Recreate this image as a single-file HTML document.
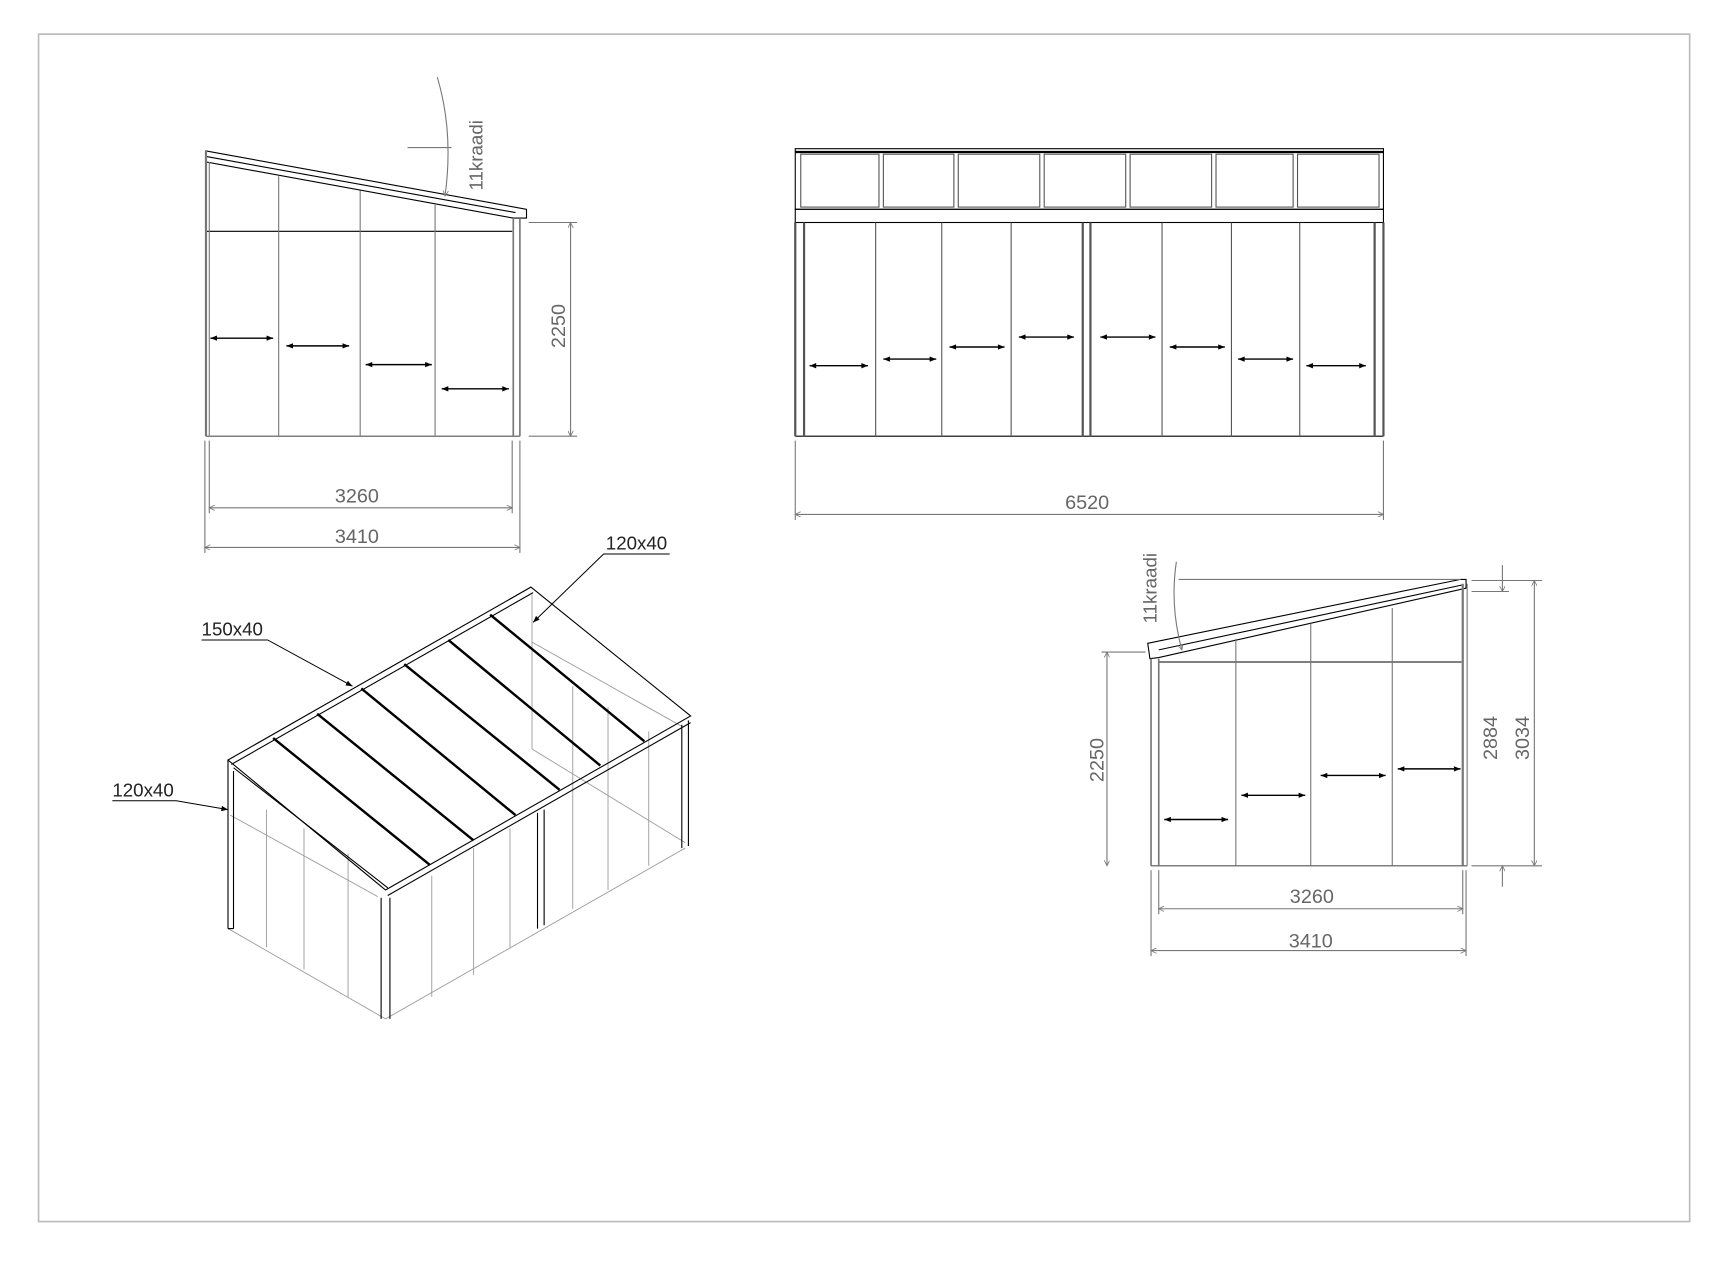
<!DOCTYPE html>
<html><head><meta charset="utf-8"><style>
html,body{margin:0;padding:0;background:#fff}
svg{display:block}
text{font-family:"Liberation Sans",sans-serif;fill:#666}
</style></head><body>
<svg width="1726" height="1261" viewBox="0 0 1567 1144.8" preserveAspectRatio="none" xmlns="http://www.w3.org/2000/svg">
<defs>
<marker id="a" viewBox="0 0 10 10" refX="10" refY="5" markerWidth="8" markerHeight="6" orient="auto-start-reverse" markerUnits="userSpaceOnUse"><path d="M0,1L10,5L0,9z" fill="#000"/></marker>
<marker id="g" viewBox="0 0 10 10" refX="10" refY="5" markerWidth="10" markerHeight="5" orient="auto-start-reverse" markerUnits="userSpaceOnUse"><path d="M0,0L10,5L0,10" fill="none" stroke="#777" stroke-width="1.5"/></marker>
</defs>
<rect x="35" y="31" width="1499" height="1078" fill="none" stroke="#bbb" stroke-width="1.5"/>

<!-- LEFT ELEVATION -->
<g stroke="#000" fill="none" stroke-width="1">
<path d="M187,137 L478,190 L478,198 L466,198 L187,147 Z"/>
<line x1="187" y1="142" x2="468" y2="193"/>
<line x1="187" y1="210" x2="465" y2="210"/>
<line x1="187" y1="396" x2="472" y2="396" stroke="#555"/>
</g>
<g stroke="#777" fill="none" stroke-width="1">
<line x1="187" y1="137" x2="187" y2="396" stroke-width="2"/><line x1="190" y1="147" x2="190" y2="396"/>
<line x1="466" y1="198" x2="466" y2="396" stroke-width="1.5"/><line x1="472" y1="198" x2="472" y2="396" stroke-width="1.5"/>
<line x1="253" y1="160" x2="253" y2="396"/><line x1="327" y1="173" x2="327" y2="396"/><line x1="395" y1="186" x2="395" y2="396"/>
<line x1="186" y1="400" x2="186" y2="502"/><line x1="472" y1="400" x2="472" y2="502"/>
<line x1="190" y1="400" x2="190" y2="466"/><line x1="465" y1="400" x2="465" y2="466"/>
<line x1="190" y1="461" x2="465" y2="461" marker-start="url(#g)" marker-end="url(#g)"/>
<line x1="186" y1="497" x2="472" y2="497" marker-start="url(#g)" marker-end="url(#g)"/>
<line x1="480" y1="202" x2="524" y2="202"/><line x1="480" y1="396" x2="524" y2="396"/>
<line x1="518" y1="202" x2="518" y2="396" marker-start="url(#g)" marker-end="url(#g)"/>
<line x1="370" y1="134" x2="410" y2="134"/>
<path d="M397,70 Q412,120 404,178" marker-end="url(#g)"/>
</g>
<text x="324" y="456" font-size="18" text-anchor="middle">3260</text>
<text x="324" y="493" font-size="18" text-anchor="middle">3410</text>
<text transform="translate(513,296) rotate(-90)" font-size="18" text-anchor="middle">2250</text>
<text transform="translate(438,141) rotate(-90)" font-size="17" text-anchor="middle">11kraadi</text>
<g stroke="#000" stroke-width="1.3" marker-start="url(#a)" marker-end="url(#a)">
<line x1="191" y1="307" x2="248" y2="307"/><line x1="260" y1="314" x2="317" y2="314"/>
<line x1="332" y1="331" x2="392" y2="331"/><line x1="401" y1="353" x2="462" y2="353"/>
</g>

<!-- MIDDLE ELEVATION -->
<g stroke="#000" fill="none" stroke-width="1">
<rect x="722" y="135" width="534" height="55"/>
<line x1="722" y1="138" x2="1256" y2="138" stroke-width="2"/>
<rect x="722" y="190" width="534" height="12"/>
<line x1="722" y1="396" x2="1256" y2="396"/>
</g>
<g stroke="#555" fill="none" stroke-width="1">
<rect x="727" y="140" width="71" height="48"/><rect x="802" y="140" width="64" height="48"/><rect x="870" y="140" width="74" height="48"/>
<rect x="948" y="140" width="74" height="48"/><rect x="1026" y="140" width="74" height="48"/><rect x="1104" y="140" width="70" height="48"/><rect x="1178" y="140" width="74" height="48"/>
<line x1="722" y1="202" x2="722" y2="396" stroke-width="2"/><line x1="730" y1="202" x2="730" y2="396" stroke-width="2"/>
<line x1="1248" y1="202" x2="1248" y2="396" stroke-width="2"/><line x1="1256" y1="202" x2="1256" y2="396" stroke-width="2"/>
<line x1="983" y1="202" x2="983" y2="396" stroke-width="2"/><line x1="990" y1="202" x2="990" y2="396" stroke-width="2"/>
<line x1="795" y1="202" x2="795" y2="396"/><line x1="855" y1="202" x2="855" y2="396"/><line x1="918" y1="202" x2="918" y2="396"/>
<line x1="1055" y1="202" x2="1055" y2="396"/><line x1="1118" y1="202" x2="1118" y2="396"/><line x1="1180" y1="202" x2="1180" y2="396"/>
</g>
<g stroke="#777" fill="none">
<line x1="722" y1="400" x2="722" y2="472"/><line x1="1256" y1="400" x2="1256" y2="472"/>
<line x1="722" y1="467" x2="1256" y2="467" marker-start="url(#g)" marker-end="url(#g)"/>
</g>
<text x="987" y="462" font-size="18" text-anchor="middle">6520</text>
<g stroke="#000" stroke-width="1.3" marker-start="url(#a)" marker-end="url(#a)">
<line x1="735" y1="332" x2="788" y2="332"/><line x1="802" y1="326" x2="850" y2="326"/><line x1="862" y1="315" x2="912" y2="315"/><line x1="925" y1="306" x2="975" y2="306"/>
<line x1="999" y1="306" x2="1049" y2="306"/><line x1="1062" y1="315" x2="1112" y2="315"/><line x1="1124" y1="326" x2="1174" y2="326"/><line x1="1186" y1="332" x2="1240" y2="332"/>
</g>

<!-- RIGHT ELEVATION -->
<g stroke="#000" fill="none" stroke-width="1">
<path d="M1042,584 L1326,526 L1331,526 L1331,534 L1052,597 L1044,598 Z"/>
<line x1="1052" y1="590" x2="1328" y2="531"/>
<line x1="1052" y1="601" x2="1327" y2="601"/>
<line x1="1045" y1="786" x2="1332" y2="786" stroke="#555"/>
</g>
<g stroke="#777" fill="none" stroke-width="1">
<line x1="1045" y1="598" x2="1045" y2="786" stroke-width="1.5"/><line x1="1052" y1="598" x2="1052" y2="786" stroke-width="1.5"/>
<line x1="1328" y1="530" x2="1328" y2="786" stroke-width="2"/><line x1="1332" y1="530" x2="1332" y2="786"/>
<line x1="1122" y1="580" x2="1122" y2="786"/><line x1="1190" y1="566" x2="1190" y2="786"/><line x1="1264" y1="552" x2="1264" y2="786"/>
<line x1="1045" y1="790" x2="1045" y2="868"/><line x1="1331" y1="790" x2="1331" y2="868"/>
<line x1="1052" y1="790" x2="1052" y2="830"/><line x1="1328" y1="790" x2="1328" y2="830"/>
<line x1="1052" y1="825" x2="1328" y2="825" marker-start="url(#g)" marker-end="url(#g)"/>
<line x1="1045" y1="863" x2="1331" y2="863" marker-start="url(#g)" marker-end="url(#g)"/>
<line x1="1000" y1="592" x2="1040" y2="592"/>
<line x1="1005" y1="592" x2="1005" y2="786" marker-start="url(#g)" marker-end="url(#g)"/>
<line x1="1336" y1="527" x2="1400" y2="527"/><line x1="1336" y1="537" x2="1370" y2="537"/><line x1="1336" y1="786" x2="1400" y2="786"/>
<line x1="1364" y1="513" x2="1364" y2="537" marker-end="url(#g)"/>
<line x1="1364" y1="805" x2="1364" y2="786" marker-end="url(#g)"/>
<line x1="1393" y1="527" x2="1393" y2="786" marker-start="url(#g)" marker-end="url(#g)"/>
<line x1="1070" y1="526" x2="1326" y2="526"/>
<path d="M1068,510 Q1062,550 1073,590" marker-end="url(#g)"/>
</g>
<text x="1191" y="820" font-size="18" text-anchor="middle">3260</text>
<text x="1190" y="860" font-size="18" text-anchor="middle">3410</text>
<text transform="translate(1002,690) rotate(-90)" font-size="18" text-anchor="middle">2250</text>
<text transform="translate(1359,670) rotate(-90)" font-size="18" text-anchor="middle">2884</text>
<text transform="translate(1388,670) rotate(-90)" font-size="18" text-anchor="middle">3034</text>
<text transform="translate(1050,534) rotate(-90)" font-size="17" text-anchor="middle">11kraadi</text>
<g stroke="#000" stroke-width="1.3" marker-start="url(#a)" marker-end="url(#a)">
<line x1="1057" y1="744" x2="1115" y2="744"/><line x1="1127" y1="722" x2="1185" y2="722"/>
<line x1="1199" y1="704" x2="1258" y2="704"/><line x1="1269" y1="698" x2="1326" y2="698"/>
</g>

<!-- ISOMETRIC -->
<g stroke="#999" fill="none" stroke-width="0.8">
<line x1="207" y1="843" x2="350" y2="925"/><line x1="350" y1="925" x2="622" y2="770"/>
<line x1="209" y1="740" x2="343" y2="814"/>
<line x1="483" y1="540" x2="483" y2="680"/><line x1="483" y1="680" x2="622" y2="765"/>
<line x1="483" y1="583" x2="620" y2="660"/>
<line x1="242" y1="735" x2="242" y2="860"/><line x1="276" y1="752" x2="276" y2="880"/><line x1="316" y1="775" x2="316" y2="905"/>
<line x1="392" y1="795" x2="392" y2="905"/><line x1="430" y1="770" x2="430" y2="885"/><line x1="463" y1="752" x2="463" y2="860"/>
<line x1="520" y1="720" x2="520" y2="825"/><line x1="552" y1="700" x2="552" y2="808"/><line x1="589" y1="680" x2="589" y2="786"/>
<line x1="520" y1="623" x2="520" y2="720"/><line x1="552" y1="642" x2="552" y2="700"/><line x1="589" y1="664" x2="589" y2="680"/>
</g>
<g stroke="#000" fill="none" stroke-width="1">
<path d="M207,690 L482,533 L627,650 L350,808 Z"/>
<path d="M210,694 L484,538"/><path d="M212,697 L352,806"/><path d="M352,813 L627,656"/>
<path d="M207,690 L207,843 M212,700 L212,843 M207,843 L212,843"/>
<path d="M346,815 L346,925 M354,815 L354,925"/>
<path d="M488,738 L488,843 M494,735 L494,840"/>
<path d="M619,658 L619,770 M625,654 L625,768"/>
</g>
<g stroke="#000" stroke-width="2.2">
<line x1="248" y1="670" x2="390" y2="785"/><line x1="288" y1="648" x2="430" y2="763"/><line x1="328" y1="625" x2="468" y2="740"/>
<line x1="367" y1="603" x2="508" y2="717"/><line x1="407" y1="581" x2="545" y2="695"/><line x1="445" y1="558" x2="585" y2="673"/>
</g>
<g stroke="#000" fill="none" stroke-width="0.9">
<path d="M183,581 L243,581 L320,623" marker-end="url(#a)"/>
<path d="M102,727 L160,727 L207,735" marker-end="url(#a)"/>
<path d="M608,503 L548,503 L484,565" marker-end="url(#a)"/>
</g>
<text x="183" y="577" font-size="17" style="fill:#222">150x40</text>
<text x="102" y="723" font-size="17" style="fill:#222">120x40</text>
<text x="550" y="499" font-size="17" style="fill:#222">120x40</text>
</svg>
</body></html>
